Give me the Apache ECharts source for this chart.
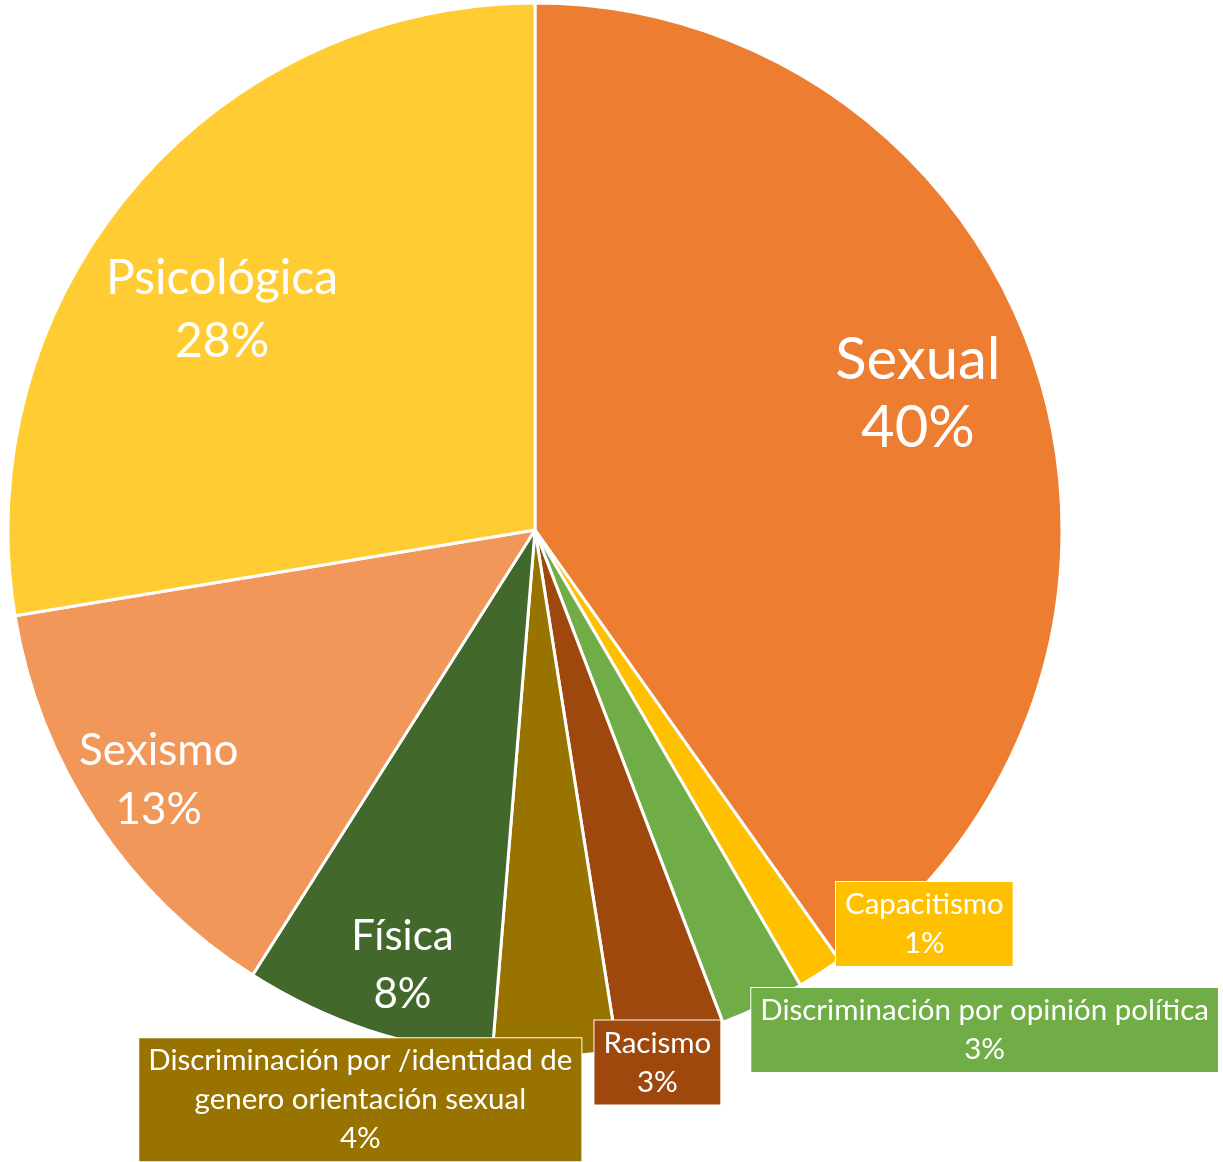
<!DOCTYPE html>
<html>
<head>
<meta charset="utf-8">
<script src="https://cdn.jsdelivr.net/npm/echarts@6/dist/echarts.min.js"></script>
<style>
    html, body { margin: 0; padding: 0; background: #fff; }
    #chart { width: 1223px; height: 1162px; }
</style>
</head>
<body>
<div id="chart"></div>
<script>
    // categorias y valores (% aproximado)
    const categories = ['Sexual', 'Capacitismo', 'Discriminación por opinión política', 'Racismo',
        'Discriminación por /identidad de genero orientación sexual', 'Física', 'Sexismo', 'Psicológica'];
    const values = [40.2, 1.4, 2.6, 3.3, 3.8, 7.7, 13.4, 27.6];
    const colors = ['#ED7D31', '#FFC000', '#70AD47', '#9E480E', '#997300', '#43682B', '#F1975A', '#FFCD33'];

    const CX = 535, CY = 530, R = 527;
    const FONT = 'Lato, "Noto Sans", sans-serif';

    // posicion de etiquetas: distancia relativa al radio y giro (grados) respecto al centro del sector
    const labelPlace = [
        {dist: 0.771, shift: -1.9},
        {dist: 1.051, shift: -11.9},
        {dist: 1.276, shift: -16.4},
        {dist: 1.037, shift: 2.0},
        {dist: 1.131, shift: 19.2},
        {dist: 0.863, shift: -1.6},
        {dist: 0.858, shift: -0.2},
        {dist: 0.726, shift: -5.2}
    ];

    function insideLabel(size, lh) {
        return {fontSize: size, lineHeight: lh};
    }
    function boxLabel(color) {
        return {
            fontSize: 29.5, lineHeight: 39,
            backgroundColor: color,
            borderColor: '#fff', borderWidth: 1,
            padding: [3, 9, 3, 9]
        };
    }
    const labelStyles = [
        insideLabel(58, 68),
        boxLabel(colors[1]),
        boxLabel(colors[2]),
        boxLabel(colors[3]),
        boxLabel(colors[4]),
        insideLabel(42, 58),
        insideLabel(44, 59),
        insideLabel(48, 63)
    ];

    const chart = echarts.init(document.getElementById('chart'));
    chart.setOption({
        backgroundColor: '#fff',
        animation: false,
        series: [{
            type: 'pie',
            center: [CX, CY],
            radius: R,
            startAngle: 90,
            clockwise: true,
            avoidLabelOverlap: false,
            data: categories.map((name, i) => ({
                name: name,
                value: values[i],
                itemStyle: {color: colors[i]},
                label: labelStyles[i]
            })),
            itemStyle: {borderColor: '#fff', borderWidth: 3},
            label: {
                show: true,
                position: 'inside',
                color: '#fff',
                fontFamily: FONT,
                align: 'center',
                formatter: function (p) {
                    let name = p.name.replace('de genero', 'de\ngenero');
                    return name + '\n' + Math.round(p.percent) + '%';
                }
            },
            labelLine: {show: false},
            emphasis: {disabled: true},
            labelLayout: function (params) {
                const pl = labelPlace[params.dataIndex];
                const r = params.labelRect;
                const lx = r.x + r.width / 2, ly = r.y + r.height / 2;
                const ang = Math.atan2(lx - CX, -(ly - CY)) + pl.shift * Math.PI / 180;
                const d = R * pl.dist;
                return {x: CX + d * Math.sin(ang), y: CY - d * Math.cos(ang)};
            }
        }]
    });
</script>
</body>
</html>
